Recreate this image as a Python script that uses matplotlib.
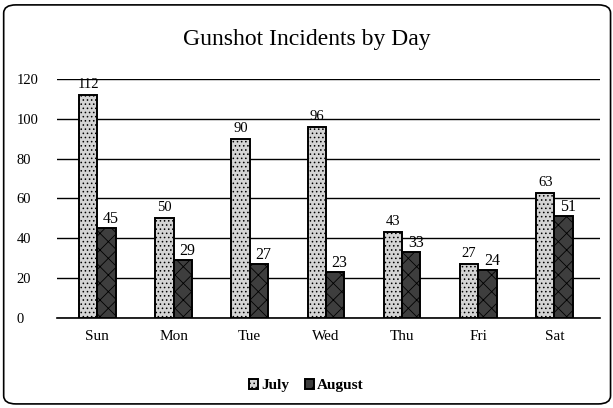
import numpy as np
import matplotlib.pyplot as plt
from matplotlib.patches import FancyBboxPatch

# ── Data ────────────────────────────────────────────────
days   = ['Sun', 'Mon', 'Tue', 'Wed', 'Thu', 'Fri', 'Sat']
july   = [112, 50, 90, 96, 43, 27, 63]
august = [45, 29, 27, 23, 33, 24, 51]

plt.rcParams['font.family'] = ['Liberation Serif', 'DejaVu Serif']
plt.rcParams['hatch.linewidth'] = 0.6

fig = plt.figure(figsize=(6.13, 4.08), dpi=100)
ax = fig.add_axes([0.093, 0.221, 0.886, 0.585])

x = np.arange(len(days))
w = 0.24
b1 = ax.bar(x - w/2, july, w, color='#d4d4d4', edgecolor='black',
            linewidth=1.4, hatch='....', label='July', zorder=3)
b2 = ax.bar(x + w/2, august, w, color='#3e3e3e', edgecolor='black',
            linewidth=1.4, hatch='xx', label='August', zorder=3)

for bar, v in zip(b1, july):
    ax.text(bar.get_x() + bar.get_width()/2, v + 2, str(v),
            ha='center', va='bottom', fontsize=10.5)
for bar, v in zip(b2, august):
    ax.text(bar.get_x() + bar.get_width()/2 + 0.06, v + 0.5, str(v),
            ha='center', va='bottom', fontsize=11.5)

ax.set_ylim(0, 120)
ax.set_xlim(-0.53, 6.6)
ax.set_yticks(range(0, 121, 20))
ax.set_xticks(x)
ax.set_xticklabels(days, fontsize=11)
ax.tick_params(axis='y', labelsize=10.5, length=0, pad=29)
ax.tick_params(axis='x', length=0, pad=9)
for lbl in ax.get_yticklabels():
    lbl.set_horizontalalignment('left')
ax.yaxis.grid(True, color='black', linewidth=1.0, zorder=0)
for s in ['top', 'right', 'left']:
    ax.spines[s].set_visible(False)
ax.spines['bottom'].set_linewidth(1.2)

fig.text(0.5, 0.902, 'Gunshot Incidents by Day', ha='center',
         va='center', fontsize=17)

fig.legend(handles=[b1, b2], loc='center', bbox_to_anchor=(0.5, 0.055),
           ncol=2, frameon=False, prop={'size': 11, 'weight': 'bold'},
           handlelength=0.6, handleheight=0.6, handletextpad=0.2,
           columnspacing=1.0)

border = FancyBboxPatch((0.006, 0.01), 0.99, 0.978,
                        boxstyle='round,pad=0,rounding_size=0.02',
                        transform=fig.transFigure, fill=False,
                        edgecolor='black', linewidth=1.2)
fig.patches.append(border)

plt.savefig('out.png', dpi=100)
